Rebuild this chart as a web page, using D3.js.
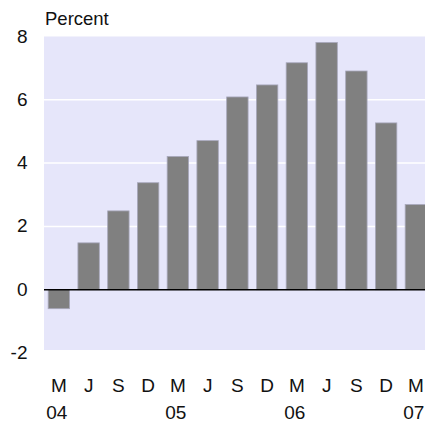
<!DOCTYPE html>
<html>
<head>
<meta charset="utf-8">
<script src="https://cdn.jsdelivr.net/npm/d3@7"></script>
<style>
  html, body { margin: 0; padding: 0; background: #ffffff; }
  svg { display: block; }
  text { font-family: "Liberation Sans", Arial, sans-serif; fill: #111; }
</style>
</head>
<body>
<div id="chart"></div>
<script>
// ---- data ----
const categories = ["M04","J04","S04","D04","M05","J05","S05","D05","M06","J06","S06","D06","M07"];
const monthLabels = ["M","J","S","D","M","J","S","D","M","J","S","D","M"];
const yearLabels = ["04","","","","05","","","","06","","","","07"];
const values = [-0.6, 1.48, 2.49, 3.38, 4.21, 4.71, 6.09, 6.47, 7.17, 7.81, 6.91, 5.27, 2.69];
const yTicks = [-2, 0, 2, 4, 6, 8];
const gridTicks = [2, 4, 6];
const unitLabel = "Percent";

// ---- layout ----
const W = 425, H = 425;
const plotLeft = 44, plotTop = 36.5, plotBottom = 350;

const svg = d3.select("#chart").append("svg")
  .attr("width", W).attr("height", H);

const x = d3.scaleBand()
  .domain(categories)
  .range([plotLeft, plotLeft + 13 * 29.75])
  .paddingInner(0.28)
  .paddingOuter(0.14);

const y = d3.scaleLinear().domain([-2, 8]).range([353, plotTop]);

svg.append("defs").append("clipPath").attr("id", "clip")
  .append("rect").attr("x", plotLeft).attr("y", 0).attr("width", W - plotLeft).attr("height", H);

// background
svg.append("rect")
  .attr("x", plotLeft).attr("y", y(8))
  .attr("width", W - plotLeft).attr("height", plotBottom - y(8))
  .attr("fill", "#e6e6fa");

// gridlines
svg.append("g").selectAll("line").data(gridTicks).join("line")
  .attr("x1", plotLeft).attr("x2", W)
  .attr("y1", d => y(d)).attr("y2", d => y(d))
  .attr("stroke", "#ffffff").attr("stroke-width", 1.5);

// bars
svg.append("g").attr("clip-path", "url(#clip)")
  .selectAll("rect").data(values).join("rect")
  .attr("x", (d, i) => x(categories[i]))
  .attr("width", x.bandwidth())
  .attr("y", d => y(Math.max(0, d)))
  .attr("height", d => Math.abs(y(d) - y(0)))
  .attr("fill", "#808080")
  .attr("stroke", "#a8a8bc")
  .attr("stroke-width", 0.8);

// zero line
svg.append("line")
  .attr("x1", plotLeft).attr("x2", W)
  .attr("y1", y(0)).attr("y2", y(0))
  .attr("stroke", "#000").attr("stroke-width", 1.5);

// y tick labels
svg.append("g").selectAll("text").data(yTicks).join("text")
  .attr("x", 27.5)
  .attr("y", d => y(d) + 1)
  .attr("text-anchor", "end")
  .attr("dominant-baseline", "middle")
  .style("font-size", "19px")
  .text(d => d);

// unit label
svg.append("text")
  .attr("x", 45).attr("y", 25)
  .style("font-size", "18.5px")
  .text(unitLabel);

// x labels
svg.append("g").selectAll("text").data(monthLabels).join("text")
  .attr("x", (d, i) => x(categories[i]) + x.bandwidth() / 2)
  .attr("y", 392)
  .attr("text-anchor", "middle")
  .style("font-size", "19px")
  .text(d => d);

svg.append("g").selectAll("text").data(yearLabels).join("text")
  .attr("x", (d, i) => x(categories[i]) + x.bandwidth() / 2 - 2)
  .attr("y", 419)
  .attr("text-anchor", "middle")
  .style("font-size", "19px")
  .text(d => d);
</script>
</body>
</html>
